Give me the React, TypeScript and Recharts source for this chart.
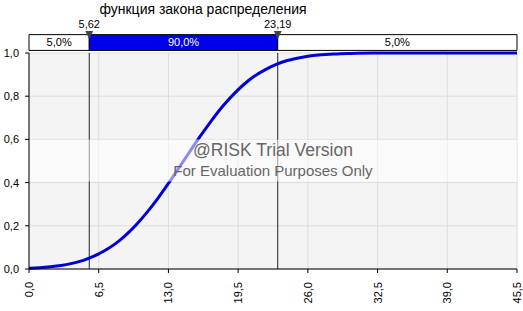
import React from 'react';
import {
  LineChart,
  Line,
  XAxis,
  YAxis,
  CartesianGrid,
  ReferenceArea,
  ReferenceLine,
} from 'recharts';

// values
const xValues = [0, 1, 2, 3, 4, 5, 6, 7, 8, 9, 10, 11, 12, 13, 14, 15, 16, 17, 18, 19, 20, 21, 22, 23, 24, 25, 26, 27, 28, 29, 30, 32, 35, 40, 45.5];
const cdfValues = [0.004, 0.006, 0.01, 0.016, 0.026, 0.039, 0.058, 0.083, 0.115, 0.156, 0.205, 0.262, 0.326, 0.396, 0.47, 0.544, 0.617, 0.686, 0.75, 0.805, 0.853, 0.892, 0.922, 0.946, 0.964, 0.976, 0.985, 0.991, 0.994, 0.997, 0.998, 0.9995, 1, 1, 1];
const xTicks = [0, 6.5, 13, 19.5, 26, 32.5, 39, 45.5];
const yTicks = [0, 0.2, 0.4, 0.6, 0.8, 1];
const leftMark = 5.62;
const rightMark = 23.19;
const bandLabels = ['5,0%', '90,0%', '5,0%'];

const data = xValues.map((x, i) => ({ x, p: cdfValues[i] }));

const FONT = '"Liberation Sans", Arial, sans-serif';
const fmt = (v: number) => v.toFixed(1).replace('.', ',');

const XTick = ({ x, y, payload }: any) => (
  <text
    x={x + 4}
    y={y + 7}
    transform={`rotate(-90, ${x + 4}, ${y + 7})`}
    textAnchor="end"
    fontSize={11}
    fontFamily={FONT}
    fill="#000"
  >
    {fmt(payload.value)}
  </text>
);

const YTick = ({ x, y, payload }: any) => (
  <text x={x - 4} y={y + 4} textAnchor="end" fontSize={11} fontFamily={FONT} fill="#000">
    {fmt(payload.value)}
  </text>
);

const Marker = ({ viewBox, text }: any) => {
  if (!viewBox) return null;
  const x = viewBox.x;
  const top = viewBox.y;
  return (
    <g>
      <polygon points={`${x - 4},${top - 22} ${x + 4},${top - 22} ${x},${top - 14}`} fill="#444" />
      <text x={x} y={top - 25} textAnchor="middle" fontSize={11} fontFamily={FONT} fill="#000">
        {text}
      </text>
    </g>
  );
};

const Watermark = ({ viewBox }: any) => {
  if (!viewBox) return null;
  const cx = viewBox.x + viewBox.width / 2;
  const cy = viewBox.y + viewBox.height / 2;
  return (
    <g fontFamily={FONT} fill="#666" textAnchor="middle">
      <text x={cx} y={cy - 4} fontSize={17.5}>@RISK Trial Version</text>
      <text x={cx} y={cy + 16} fontSize={15}>For Evaluation Purposes Only</text>
    </g>
  );
};

export default function App() {
  return (
    <div style={{ position: 'absolute', left: 0, top: 0, width: 523, height: 311, background: '#fff' }}>
      <div
        style={{
          position: 'absolute',
          left: 0,
          top: 1,
          width: 406,
          textAlign: 'center',
          fontFamily: FONT,
          fontSize: 14,
          color: '#000',
        }}
      >
        функция закона распределения
      </div>
      <LineChart width={523} height={311} data={data} margin={{ top: 53, right: 6, bottom: 6, left: 5 }}>
        <CartesianGrid fill="#f4f4f4" stroke="#dcdcdc" horizontal vertical />
        <XAxis
          dataKey="x"
          type="number"
          domain={[0, 45.5]}
          ticks={xTicks}
          interval={0}
          height={36}
          tickSize={4}
          tick={<XTick />}
          axisLine={{ stroke: '#000' }}
          tickLine={{ stroke: '#000' }}
        />
        <YAxis
          type="number"
          domain={[0, 1]}
          ticks={yTicks}
          width={24}
          tickSize={4}
          tick={<YTick />}
          axisLine={{ stroke: '#000' }}
          tickLine={{ stroke: '#000' }}
        />
        <ReferenceLine x={leftMark} stroke="#222" label={<Marker text="5,62" />} />
        <ReferenceLine x={rightMark} stroke="#222" label={<Marker text="23,19" />} />
        <Line
          type="monotone"
          dataKey="p"
          stroke="#0000d8"
          strokeWidth={3}
          dot={false}
          isAnimationActive={false}
        />
        <ReferenceArea
          y1={0.405}
          y2={0.6}
          fill="#ffffff"
          fillOpacity={0.55}
          stroke="none"
          zIndex={450}
          label={<Watermark />}
        />
        <ReferenceArea
          x1={0}
          x2={leftMark}
          y1={1.012}
          y2={1.085}
          ifOverflow="visible"
          fill="#ffffff"
          fillOpacity={1}
          stroke="#000"
          label={{ value: bandLabels[0], position: 'center', fill: '#000', fontSize: 11, fontFamily: FONT }}
        />
        <ReferenceArea
          x1={leftMark}
          x2={rightMark}
          y1={1.012}
          y2={1.085}
          ifOverflow="visible"
          fill="#0000ee"
          fillOpacity={1}
          stroke="#000"
          label={{ value: bandLabels[1], position: 'center', fill: '#fff', fontSize: 11, fontFamily: FONT }}
        />
        <ReferenceArea
          x1={rightMark}
          x2={45.5}
          y1={1.012}
          y2={1.085}
          ifOverflow="visible"
          fill="#ffffff"
          fillOpacity={1}
          stroke="#000"
          label={{ value: bandLabels[2], position: 'center', fill: '#000', fontSize: 11, fontFamily: FONT }}
        />
      </LineChart>
    </div>
  );
}
